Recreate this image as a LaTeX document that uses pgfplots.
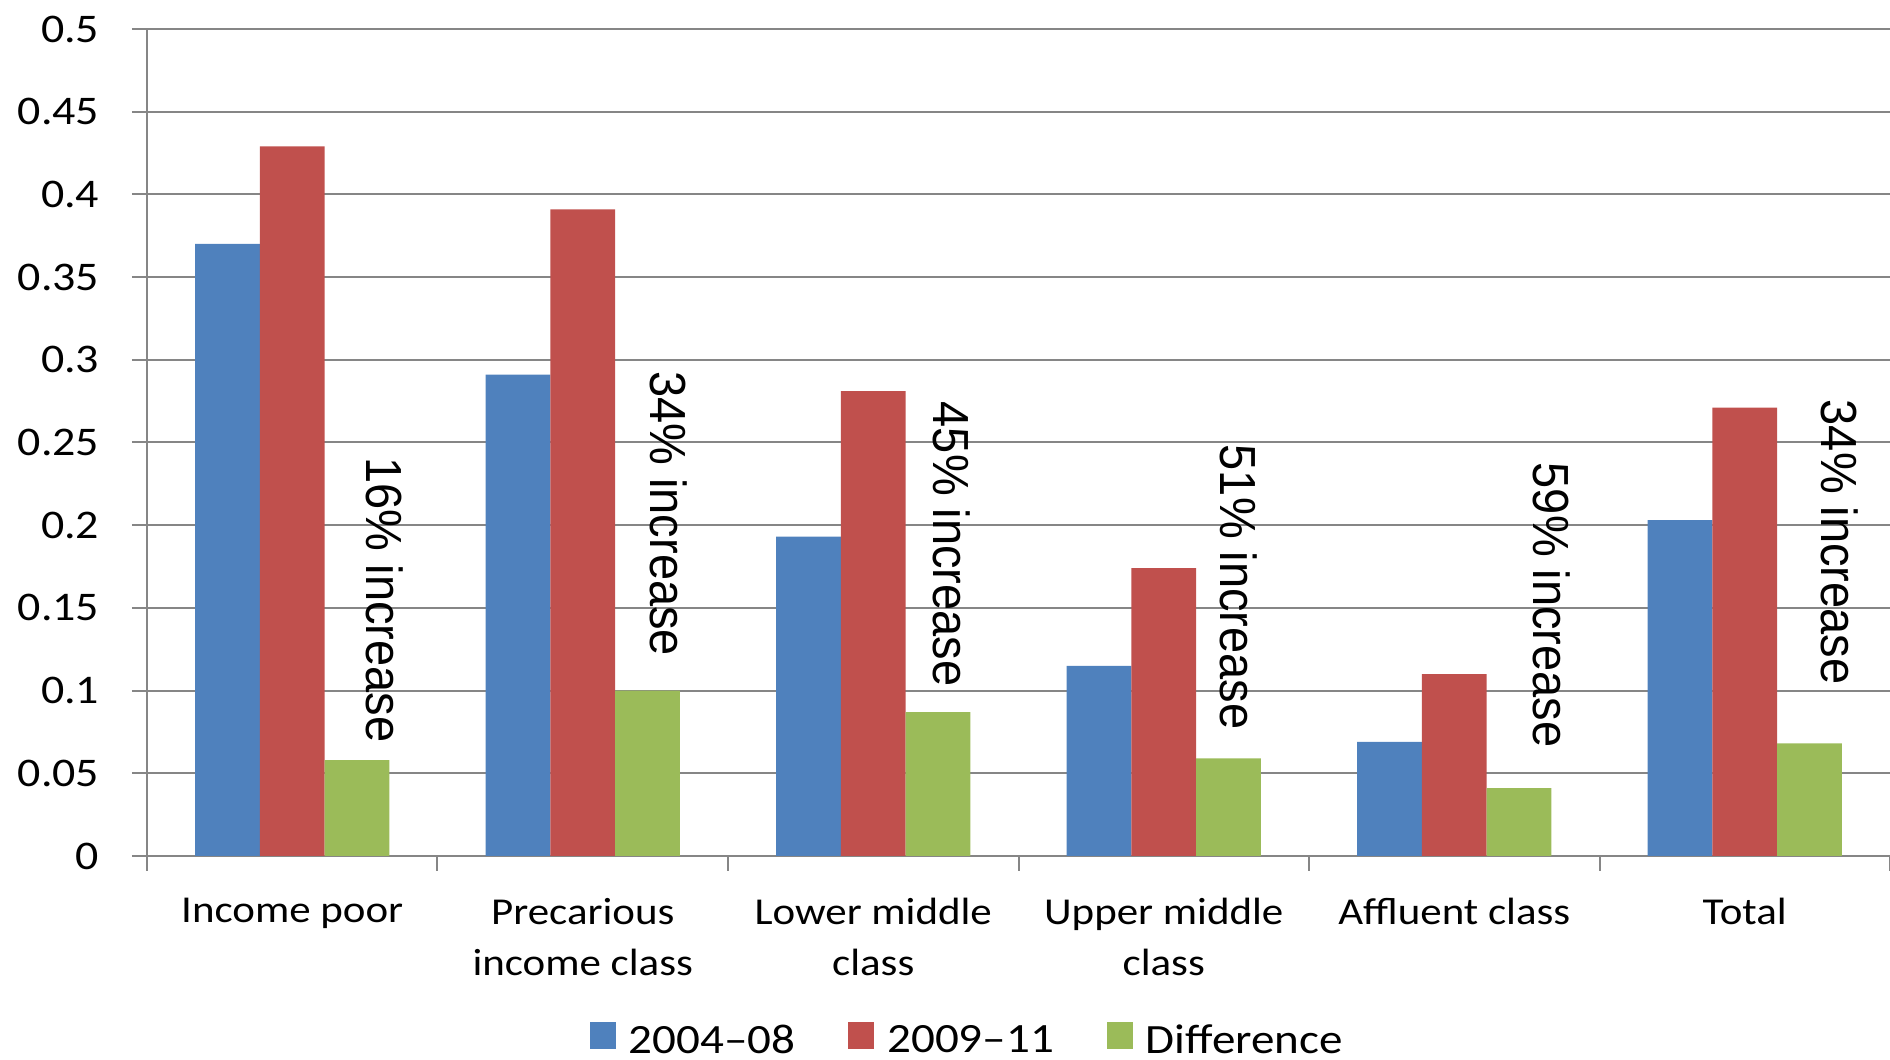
\documentclass[border=0pt]{standalone}
\usepackage{fontspec}
\setmainfont{Carlito}
\newfontfamily\annfont{Liberation Sans}
\usepackage{pgfplots}
\pgfplotsset{compat=1.18}
\usetikzlibrary{calc}

\definecolor{cBlue}{HTML}{4F81BD}
\definecolor{cRed}{HTML}{C0504D}
\definecolor{cGreen}{HTML}{9BBB59}
\definecolor{cGrid}{HTML}{868686}

% slightly widened glyphs
\newcommand{\sx}[1]{\scalebox{1.13}[1]{#1}}
% rotated growth labels above the difference bars
\newcommand{\growth}[3]{\node[rotate=-90, anchor=west, inner sep=0pt,
  font=\annfont\fontsize{14.1}{17}\selectfont] at (axis cs:#1,#2)
  {\scalebox{1}[1.08]{#3}};}

\begin{document}
\begin{tikzpicture}
\begin{axis}[
  name=ax,
  scale only axis,
  width=522.9pt, height=248.1pt,
  xmin=-0.5, xmax=5.5,
  ymin=0, ymax=0.5,
  axis x line*=bottom,
  axis y line*=left,
  axis line style={cGrid, line width=0.6pt},
  ymajorgrids,
  grid style={cGrid, line width=0.6pt},
  tick align=outside,
  tick style={cGrid, line width=0.6pt},
  major tick length=4.5pt,
  ytick={0,0.05,0.1,0.15,0.2,0.25,0.3,0.35,0.4,0.45,0.5},
  yticklabels={0,0.05,0.1,0.15,0.2,0.25,0.3,0.35,0.4,0.45,0.5},
  yticklabel style={font=\fontsize{12.2}{14}\selectfont, anchor=east,
    inner sep=0pt, xshift=-9.6pt, xscale=1.13},
  xtick={-0.5,0.5,1.5,2.5,3.5,4.5,5.5},
  xticklabel={\relax},
  extra x ticks={0,1,2,3,4,5},
  extra x tick labels={Income poor,{Precarious\\income class},{Lower middle\\class},{Upper middle\\class},Affluent class,Total},
  extra x tick style={major tick length=0pt, tick style={draw=none},
    tick label style={font=\fontsize{11.4}{15.3}\selectfont, align=center,
      anchor=north, inner sep=0pt, yshift=-12.4pt, xscale=1.13}},
  ybar=0pt,
  bar width=0.2227,
  legend style={
    at={(axis description cs:0.470,-0.2231)}, anchor=center,
    draw=none, fill=none, inner sep=0pt,
    legend columns=3,
    font=\fontsize{12.5}{15}\selectfont,
    nodes={inner sep=0pt},
    /tikz/every odd column/.append style={column sep=3.9pt},
    /tikz/every even column/.append style={column sep=15.9pt},
  },
  legend image code/.code={\fill[#1] (0pt,-2.2pt) rectangle (7.8pt,5.9pt);},
]
\addplot[fill=cBlue, draw=none, bar shift=-0.2227] coordinates
  {(0,0.370) (1,0.291) (2,0.193) (3,0.115) (4,0.069) (5,0.203)};
\addplot[fill=cRed, draw=none, bar shift=0] coordinates
  {(0,0.429) (1,0.391) (2,0.281) (3,0.174) (4,0.110) (5,0.271)};
\addplot[fill=cGreen, draw=none, bar shift=0.2227] coordinates
  {(0,0.058) (1,0.100) (2,0.087) (3,0.059) (4,0.041) (5,0.068)};
\legend{\sx{2004–08},\sx{2009–11},\sx{Difference}}

\growth{0.318}{0.2412}{16\% increase}
\growth{1.296}{0.2934}{34\% increase}
\growth{2.269}{0.2750}{45\% increase}
\growth{3.257}{0.2490}{51\% increase}
\growth{4.334}{0.2381}{59\% increase}
\growth{5.328}{0.2762}{34\% increase}
\end{axis}
\pgfresetboundingbox
\path ($(ax.south west)+(-44.1pt,-61.2pt)$) rectangle ($(ax.north east)+(0pt,8.7pt)$);
\end{tikzpicture}
\end{document}
